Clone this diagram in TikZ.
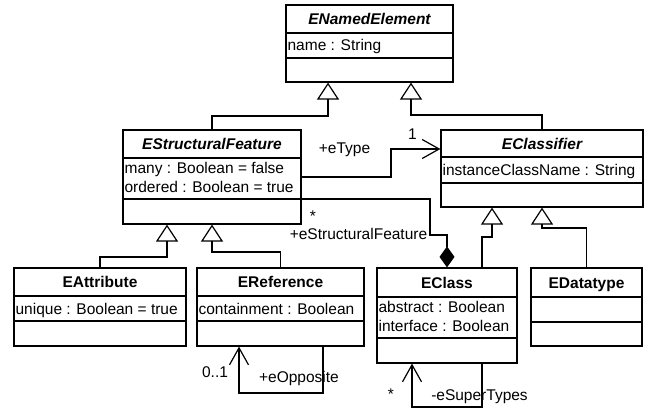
\documentclass[tikz,border=0pt]{standalone}
\usepackage{fontspec}
\setmainfont{Liberation Sans}
\usetikzlibrary{arrows.meta}
\begin{document}
\begin{tikzpicture}[x=1pt,y=-1pt,font=\fontsize{15.5}{18}\selectfont,
 cls/.style={draw, line width=1.2pt, inner sep=0pt},
 sepline/.style={line width=1.2pt},
 ttl/.style={anchor=base, inner sep=0pt, font=\fontsize{15.5}{18}\selectfont\bfseries},
 ittl/.style={ttl, font=\fontsize{15.5}{18}\selectfont\bfseries\itshape},
 attr/.style={anchor=base west, inner sep=0pt},
 lbl/.style={anchor=base, inner sep=0pt},
 conn/.style={line width=1.2pt, line join=miter},
 gen/.style={conn, -{Triangle[open,length=17pt,width=22pt]}},
 nav/.style={conn, -{Straight Barb[length=17pt,width=19pt]}},
 comp/.style={conn, -{Diamond[length=21pt,width=15pt]}}]
\useasboundingbox (0,0) rectangle (660,414);

% ENamedElement
\node[cls, minimum width=167pt, minimum height=77pt] (ne) at (369.5,43.5) {};
\draw[sepline] (ne.west |- 0,33) -- (ne.east |- 0,33);
\draw[sepline] (ne.west |- 0,58) -- (ne.east |- 0,58);
\node[ittl] (neT) at (ne.north |- 0,24.5) {ENamedElement};
\node[attr] (neA) at ([xshift=2pt]ne.west |- 0,51) {name : String};

% EStructuralFeature
\node[cls, minimum width=178pt, minimum height=94pt] (esf) at (212,177) {};
\draw[sepline] (esf.west |- 0,158) -- (esf.east |- 0,158);
\draw[sepline] (esf.west |- 0,199) -- (esf.east |- 0,199);
\node[ittl] (esfT) at (esf.north |- 0,149.5) {EStructuralFeature};
\node[attr] (esfA) at ([xshift=2pt]esf.west |- 0,173.5) {many : Boolean = false};
\node[attr] (esfB) at ([xshift=2pt]esf.west |- 0,192.5) {ordered : Boolean = true};

% EClassifier
\node[cls, minimum width=202pt, minimum height=77pt] (ecl) at (542,168.5) {};
\draw[sepline] (ecl.west |- 0,157) -- (ecl.east |- 0,157);
\draw[sepline] (ecl.west |- 0,183) -- (ecl.east |- 0,183);
\node[ittl] (eclT) at (ecl.north |- 0,149.5) {EClassifier};
\node[attr] (eclA) at ([xshift=2pt]ecl.west |- 0,175.5) {instanceClassName : String};

% EAttribute
\node[cls, minimum width=172pt, minimum height=78pt] (eat) at (100,307) {};
\draw[sepline] (eat.west |- 0,296) -- (eat.east |- 0,296);
\draw[sepline] (eat.west |- 0,321) -- (eat.east |- 0,321);
\node[ttl] (eatT) at (eat.north |- 0,287.5) {EAttribute};
\node[attr] (eatA) at ([xshift=2pt]eat.west |- 0,314) {unique : Boolean = true};

% EReference
\node[cls, minimum width=167pt, minimum height=78pt] (ere) at (280.5,307) {};
\draw[sepline] (ere.west |- 0,296) -- (ere.east |- 0,296);
\draw[sepline] (ere.west |- 0,321) -- (ere.east |- 0,321);
\node[ttl] (ereT) at (ere.north |- 0,287.5) {EReference};
\node[attr] (ereA) at ([xshift=2pt]ere.west |- 0,314) {containment : Boolean};

% EClass
\node[cls, minimum width=140pt, minimum height=95pt] (ecs) at (447,315.5) {};
\draw[sepline] (ecs.west |- 0,297) -- (ecs.east |- 0,297);
\draw[sepline] (ecs.west |- 0,338) -- (ecs.east |- 0,338);
\node[ttl] (ecsT) at (ecs.north |- 0,288) {EClass};
\node[attr] (ecsA) at ([xshift=2pt]ecs.west |- 0,312) {abstract : Boolean};
\node[attr] (ecsB) at ([xshift=2pt]ecs.west |- 0,331) {interface : Boolean};

% EDatatype
\node[cls, minimum width=111pt, minimum height=78pt] (edt) at (586.5,307) {};
\draw[sepline] (edt.west |- 0,297) -- (edt.east |- 0,297);
\draw[sepline] (edt.west |- 0,322) -- (edt.east |- 0,322);
\node[ttl] (edtT) at (edt.north |- 0,288) {EDatatype};

% generalizations
\draw[gen] (esf.north) |- (328,116) -- (ne.south -| 328,0);
\draw[gen] (ecl.north) |- (411,115) -- (ne.south -| 411,0);
\draw[gen] (eat.north) |- (167,257) -- (esf.south -| 167,0);
\draw[gen] (ere.north) |- (212,252) -- (esf.south -| 212,0);
\draw[gen] (ecs.north -| 482,0) |- (492,237) -- (ecl.south -| 492,0);
\draw[gen] (edt.north) |- (542,228) -- (ecl.south -| 542,0);

% associations
\draw[nav] (esf.east |- 0,177) -| (391,149) -- (ecl.west |- 0,149);
\node[lbl] (lType) at (344.5,153.5) {+eType};
\node[lbl] (lOne) at (412.5,140) {1};

\draw[comp] (esf.east |- 0,199) -| (430,235) -| (ecs.north);
\node[lbl] (lStar1) at (313,221) {*};
\node[lbl] (lSF) at (358.5,239.5) {+eStructuralFeature};

\draw[nav] (ere.south -| 323,0) |- (239,393) -- (ere.south -| 239,0);
\node[lbl] (lZero) at (215,377) {0..1};
\node[lbl] (lOpp) at (299,382.5) {+eOpposite};

\draw[nav] (ecs.south -| 482,0) |- (412,407) -- (ecs.south -| 412,0);
\node[lbl] (lStar2) at (391,399) {*};
\node[lbl] (lSup) at (479.5,400) {-eSuperTypes};
\end{tikzpicture}
\end{document}
